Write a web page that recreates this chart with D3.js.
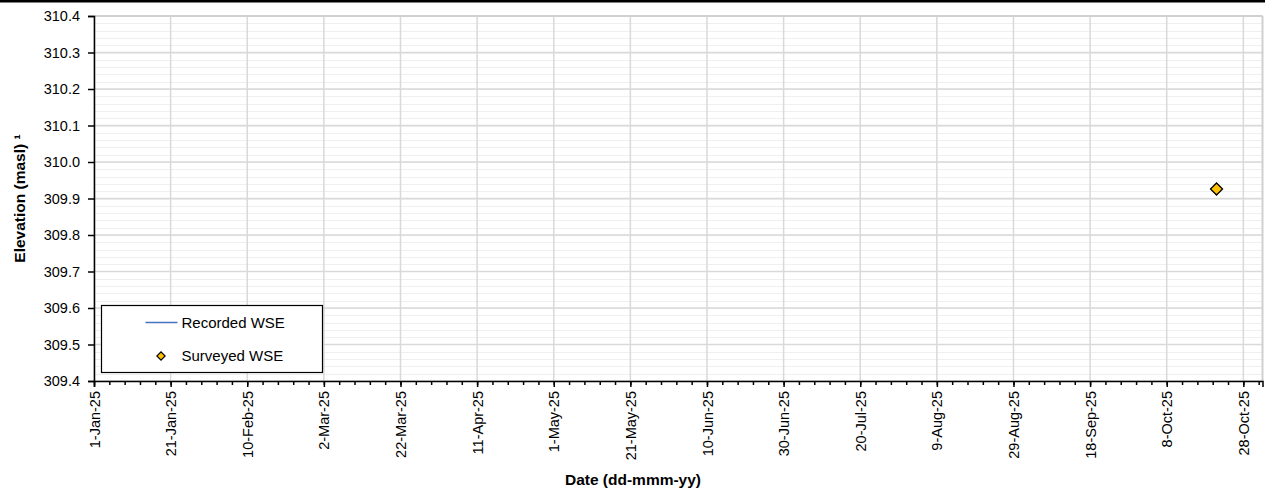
<!DOCTYPE html>
<html>
<head>
<meta charset="utf-8">
<script src="https://cdn.jsdelivr.net/npm/d3@7"></script>
<style>
  body { margin: 0; background: #fff; }
  svg { display: block; font-family: "Liberation Sans", Arial, sans-serif; }
</style>
</head>
<body>
<div id="chart"></div>
<script>
// data
const recordedDates = [];
const recordedWSE = [];
const surveyedDates = ["2025-10-21"];
const surveyedWSE = [309.926];
const yTicks = [309.4, 309.5, 309.6, 309.7, 309.8, 309.9, 310.0, 310.1, 310.2, 310.3, 310.4];
const xStart = "2025-01-01", xEnd = "2025-11-02";
const seriesNames = ["Recorded WSE", "Surveyed WSE"];

const W = 1265, H = 492;
const margin = { top: 16, right: 2.5, bottom: 111, left: 94 };
const width = W - margin.left - margin.right,
      height = H - margin.top - margin.bottom;

const parse = d3.utcParse("%Y-%m-%d");
const fmt = d3.utcFormat("%-d-%b-%y");

const svg = d3.select("#chart").append("svg")
    .attr("width", W).attr("height", H);

// black bar at the top
svg.append("rect").attr("x", 0).attr("y", 0).attr("width", W).attr("height", 2.5).attr("fill", "#000");

const g = svg.append("g").attr("transform", `translate(${margin.left},${margin.top})`);

const x = d3.scaleUtc().domain([parse(xStart), parse(xEnd)]).range([0, width]);
const y = d3.scaleLinear().domain([309.4, 310.4]).range([height, 0]);

const allDays = d3.utcDay.range(parse(xStart), d3.utcDay.offset(parse(xEnd), 1));
const majorX = allDays.filter((d, i) => i % 20 === 0);
const minorX = allDays.filter((d, i) => i % 4 === 0);
const minorY = d3.range(0, 51).map(i => 309.4 + i * 0.02);

// minor horizontal grid
g.append("g").selectAll("line").data(minorY).enter().append("line")
    .attr("x1", 0).attr("x2", width)
    .attr("y1", d => Math.round(y(d)) + 0.5).attr("y2", d => Math.round(y(d)) + 0.5)
    .attr("stroke", "#efefef").attr("stroke-width", 1);

// major grid
g.append("g").selectAll("line").data(yTicks).enter().append("line")
    .attr("x1", 0).attr("x2", width)
    .attr("y1", d => y(d)).attr("y2", d => y(d))
    .attr("stroke", "#d9d9d9").attr("stroke-width", 1.5);
g.append("g").selectAll("line").data(majorX).enter().append("line")
    .attr("x1", d => x(d)).attr("x2", d => x(d))
    .attr("y1", 0).attr("y2", height)
    .attr("stroke", "#d9d9d9").attr("stroke-width", 1.5);

// plot border top/right
g.append("line").attr("x1", 0).attr("x2", width).attr("y1", 0).attr("y2", 0)
    .attr("stroke", "#d0d0d0").attr("stroke-width", 2);
g.append("line").attr("x1", width).attr("x2", width).attr("y1", 0).attr("y2", height)
    .attr("stroke", "#d0d0d0").attr("stroke-width", 2);

// y axis
g.append("g")
    .call(d3.axisLeft(y).tickValues(yTicks).tickFormat(d3.format(".1f")).tickSize(6).tickPadding(8));
// x minor ticks
g.append("g").attr("transform", `translate(0,${height})`)
    .call(d3.axisBottom(x).tickValues(minorX).tickSize(4).tickFormat(""))
    .select(".domain").remove();
// x axis
const xAxis = g.append("g").attr("transform", `translate(0,${height})`)
    .call(d3.axisBottom(x).tickValues(majorX).tickFormat(fmt).tickSize(6));
xAxis.selectAll("text")
    .attr("transform", "rotate(-90)")
    .attr("x", -10).attr("y", 0).attr("dy", "0.35em")
    .style("text-anchor", "end");

g.selectAll(".tick text").style("font-size", "14.5px").style("fill", "#000");
g.selectAll(".domain, .tick line").attr("stroke", "#000").attr("stroke-width", 1.5);

// axis titles
svg.append("text")
    .attr("x", 633).attr("y", 485)
    .attr("text-anchor", "middle")
    .style("font-size", "15.5px").style("font-weight", "bold")
    .text("Date (dd-mmm-yy)");
svg.append("text")
    .attr("transform", `translate(25,${margin.top + height / 2}) rotate(-90)`)
    .attr("text-anchor", "middle")
    .style("font-size", "15.5px").style("font-weight", "bold")
    .text("Elevation (masl) ¹");

// recorded line (no data in the picture)
const line = d3.line().x(d => x(parse(d[0]))).y(d => y(d[1]));
g.append("path")
    .datum(recordedDates.map((d, i) => [d, recordedWSE[i]]))
    .attr("fill", "none").attr("stroke", "#4472c4").attr("stroke-width", 1.5)
    .attr("d", line);

// surveyed points
g.selectAll(".pt").data(surveyedDates.map((d, i) => [d, surveyedWSE[i]]))
    .enter().append("path")
    .attr("class", "pt")
    .attr("transform", d => `translate(${x(parse(d[0]))},${y(d[1])}) rotate(45)`)
    .attr("d", d3.symbol().type(d3.symbolSquare).size(72))
    .attr("fill", "#ffc000").attr("stroke", "#000").attr("stroke-width", 1.3);

// legend
const lg = svg.append("g").attr("transform", "translate(101.5,305.5)");
lg.append("rect").attr("width", 221).attr("height", 67)
    .attr("fill", "#fff").attr("stroke", "#000").attr("stroke-width", 1.2);
lg.append("line").attr("x1", 44).attr("x2", 76).attr("y1", 17).attr("y2", 17)
    .attr("stroke", "#4472c4").attr("stroke-width", 1.5);
lg.append("path")
    .attr("transform", "translate(59.5,50.5) rotate(45)")
    .attr("d", d3.symbol().type(d3.symbolSquare).size(34))
    .attr("fill", "#ffc000").attr("stroke", "#000").attr("stroke-width", 1.2);
lg.selectAll(".lt").data(seriesNames).enter().append("text")
    .attr("x", 80).attr("y", (d, i) => 17 + i * 33)
    .attr("dy", "0.35em")
    .style("font-size", "15px")
    .text(d => d);
</script>
</body>
</html>
